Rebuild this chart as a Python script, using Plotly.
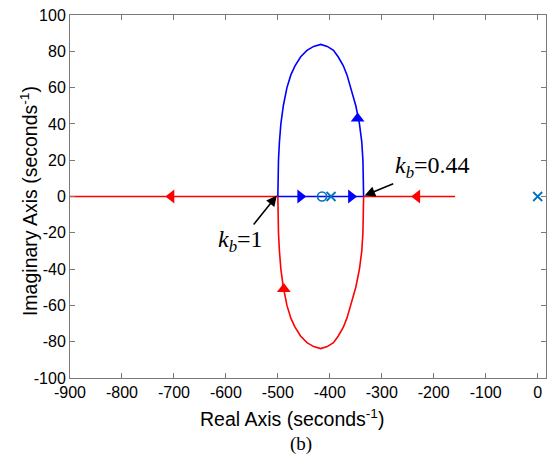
import plotly.graph_objects as go

# ---- data ----
# upper (blue) branch of the closed loop, left break-in -> top -> right break-away
upper_re = [-500, -499.6, -498.8, -497.0, -494.2, -489.5, -482.5, -475.0, -467.0, -456.0, -444.0, -431.0,
            -417.5, -405.0, -393.0, -384.0, -374.0, -367.0, -360.5, -350.0, -343.0, -338.5, -336.3, -335.4, -335]
upper_im = [0, 10, 20, 30, 40, 50, 60, 67, 72, 77, 80.5, 82.7,
            83.8, 82.7, 80.5, 77, 72, 67, 60, 50, 40, 30, 20, 10, 0]
# lower (red) branch
lower_re = [-500, -499.6, -498.8, -497.0, -494.2, -489.5, -482.5, -475.0, -467.0, -456.0, -444.0, -431.0,
            -417.5, -405.0, -393.0, -384.0, -374.0, -367.0, -360.5, -350.0, -343.0, -338.5, -336.3, -335.4, -335]
lower_im = [0, -10, -20, -30, -40, -50, -60, -67, -72, -77, -80.5, -82.7,
            -83.8, -82.7, -80.5, -77, -72, -67, -60, -50, -40, -30, -20, -10, 0]
# real-axis segments
red_left_re = [-900, -500]
red_right_re = [-335, -159]
blue_axis_re = [-500, -335]
# direction arrows
blue_right_arrows_re = [-456.7, -359.0]
red_left_arrows_re = [-705.0, -232.0]
blue_up_arrow = (-346.5, 43.0)
red_up_arrow = (-488.5, -51.0)
# poles and zeros
poles_re = [-397.7, 0]
zeros_re = [-415.0]
xticks = list(range(-900, 1, 100))
yticks = list(range(-100, 101, 20))

RED = "#FF0000"
BLUE = "#0000FF"
PZ = "#0072BD"

fig = go.Figure()
fig.add_trace(go.Scatter(x=red_left_re, y=[0, 0], mode="lines", line=dict(color=RED, width=1.6)))
fig.add_trace(go.Scatter(x=red_right_re, y=[0, 0], mode="lines", line=dict(color=RED, width=1.6)))
fig.add_trace(go.Scatter(x=blue_axis_re, y=[0, 0], mode="lines", line=dict(color=BLUE, width=1.6)))
fig.add_trace(go.Scatter(x=upper_re, y=upper_im, mode="lines", line=dict(color=BLUE, width=1.6)))
fig.add_trace(go.Scatter(x=lower_re, y=lower_im, mode="lines", line=dict(color=RED, width=1.6)))

fig.add_trace(go.Scatter(x=blue_right_arrows_re, y=[0, 0], mode="markers",
                         marker=dict(symbol="triangle-right", size=12, color=BLUE, line=dict(width=0))))
fig.add_trace(go.Scatter(x=red_left_arrows_re, y=[0, 0], mode="markers",
                         marker=dict(symbol="triangle-left", size=12, color=RED, line=dict(width=0))))
fig.add_trace(go.Scatter(x=[blue_up_arrow[0]], y=[blue_up_arrow[1]], mode="markers",
                         marker=dict(symbol="triangle-up", size=12, color=BLUE, line=dict(width=0))))
fig.add_trace(go.Scatter(x=[red_up_arrow[0]], y=[red_up_arrow[1]], mode="markers",
                         marker=dict(symbol="triangle-up", size=12, color=RED, line=dict(width=0))))

fig.add_trace(go.Scatter(x=poles_re, y=[0] * len(poles_re), mode="markers",
                         marker=dict(symbol="x-thin-open", size=9, color=PZ, line=dict(color=PZ, width=1.8))))
fig.add_trace(go.Scatter(x=zeros_re, y=[0] * len(zeros_re), mode="markers",
                         marker=dict(symbol="circle-open", size=9, color=PZ, line=dict(color=PZ, width=1.6))))

serif = "Liberation Serif, Times New Roman, serif"
sans = "Liberation Sans, Arial, sans-serif"

annots = [
    dict(x=-333, y=0.5, ax=-203, ay=16.0, axref="x", ayref="y", xref="x", yref="y",
         text="<i>k</i><sub><i>b</i></sub>=0.44", font=dict(family=serif, size=24, color="black"),
         showarrow=True, arrowhead=2, arrowsize=1.4, arrowwidth=1.5, arrowcolor="black", standoff=0),
    dict(x=-502, y=0.5, ax=-572, ay=-24.5, axref="x", ayref="y", xref="x", yref="y",
         text="<i>k</i><sub><i>b</i></sub>=1", font=dict(family=serif, size=24, color="black"),
         showarrow=True, arrowhead=2, arrowsize=1.4, arrowwidth=1.5, arrowcolor="black", standoff=0),
    dict(x=292.5, y=418, xref="paper", yref="paper", showarrow=False,
         text="Real Axis (seconds<sup>-1</sup>)", font=dict(family=sans, size=19.5, color="black"),
         xanchor="center", yanchor="middle"),
    dict(x=301, y=445, xref="paper", yref="paper", showarrow=False,
         text="(b)", font=dict(family=serif, size=19, color="black"),
         xanchor="center", yanchor="middle"),
    dict(x=29, y=199.5, xref="paper", yref="paper", showarrow=False, textangle=-90,
         text="Imaginary Axis (seconds<sup>-1</sup>)", font=dict(family=sans, size=19.5, color="black"),
         xanchor="center", yanchor="middle"),
]

# convert pixel-positioned paper annotations to paper fractions
L, R, T, B = 70, 7, 12, 86
W, H = 554, 464
pw, ph = W - L - R, H - T - B
for a in annots:
    if a.get("xref") == "paper":
        a["x"] = (a["x"] - L) / pw
        a["y"] = 1 - (a["y"] - T) / ph

fig.update_layout(
    width=W, height=H,
    margin=dict(l=L, r=R, t=T, b=B),
    paper_bgcolor="white", plot_bgcolor="white",
    showlegend=False,
    annotations=annots,
    font=dict(family=sans, size=16, color="black"),
)
axis_common = dict(showgrid=False, zeroline=False, showline=True, linecolor="#7a7a7a", linewidth=1,
                   mirror="allticks", ticks="inside", ticklen=5, tickcolor="#7a7a7a", tickwidth=1,
                   tickfont=dict(family=sans, size=16, color="black"))
fig.update_xaxes(range=[-900, 16], tickvals=xticks, ticktext=[str(v) for v in xticks], **axis_common)
fig.update_yaxes(range=[-100, 100], tickvals=yticks, ticktext=[str(v) for v in yticks], **axis_common)

fig.write_html("out.html")
